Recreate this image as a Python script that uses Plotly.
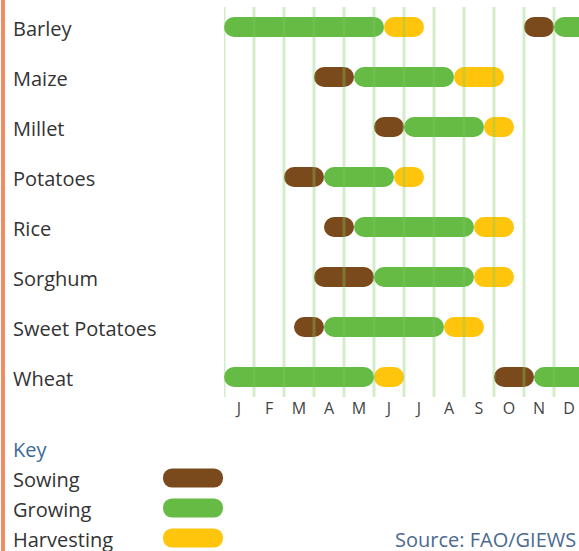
import plotly.graph_objects as go

# Crop calendar, in dekads (10-day periods, 0..36 across the year)
crops = ["Barley", "Maize", "Millet", "Potatoes", "Rice", "Sorghum", "Sweet Potatoes", "Wheat"]

sow_start = [30, 9, 15, 6, 10, 9, 7, 27]
sow_end = [33, 13, 18, 10, 13, 15, 10, 31]

grow_start = [33, 13, 18, 10, 13, 15, 10, 31]
grow_end = [16, 23, 26, 17, 25, 25, 22, 15]   # end < start: season runs into next year

harv_start = [16, 23, 26, 17, 25, 25, 22, 15]
harv_end = [20, 28, 29, 20, 29, 29, 26, 18]

months = ["J", "F", "M", "A", "M", "J", "J", "A", "S", "O", "N", "D"]
key_labels = ["Sowing", "Growing", "Harvesting"]

COL_SOW = "#7b4a1c"
COL_GROW = "#66bb44"
COL_HARV = "#ffc50c"

W, H = 579, 551
YEAR = 36
FONT = "Open Sans"


def px_x(p):
    return p / W


def px_y(p):
    return (H - p) / H


def segments(starts, ends):
    rows, s_out, e_out = [], [], []
    for i, (s, e) in enumerate(zip(starts, ends)):
        if e < s:  # wraps past December
            rows += [i, i]
            s_out += [s, 0]
            e_out += [e + YEAR, e]
        else:
            rows.append(i)
            s_out.append(s)
            e_out.append(e)
    return rows, s_out, e_out


fig = go.Figure()


def add_pills(rows, starts, ends, color, xa="x", ya="y", width=0.4):
    fig.add_trace(go.Bar(
        orientation="h",
        y=rows,
        base=starts,
        x=[e - s for s, e in zip(starts, ends)],
        width=width,
        marker=dict(color=color, cornerradius=10, line=dict(width=0)),
        xaxis=xa, yaxis=ya,
        showlegend=False, hoverinfo="skip",
    ))


for (st, en, col) in [(sow_start, sow_end, COL_SOW),
                      (grow_start, grow_end, COL_GROW),
                      (harv_start, harv_end, COL_HARV)]:
    r, s, e = segments(st, en)
    add_pills(r, s, e, col)

# key pills
key_colors = [COL_SOW, COL_GROW, COL_HARV]
for i, col in enumerate(key_colors):
    add_pills([i], [0], [6], col, xa="x2", ya="y2", width=0.64)

# month separator lines, drawn over the bars
shapes = []
for m in range(12):
    shapes.append(dict(type="line", xref="x", yref="y", x0=m * 3, x1=m * 3,
                       y0=7.4, y1=-0.4, layer="above",
                       line=dict(color="rgba(130,200,100,0.35)", width=3)))
# left border
shapes.append(dict(type="rect", xref="paper", yref="paper", x0=px_x(1), x1=px_x(5),
                   y0=0, y1=1, fillcolor="#f28c64", line=dict(width=0), layer="below"))

annotations = []
for i, c in enumerate(crops):
    annotations.append(dict(text=c, xref="paper", yref="y", x=px_x(11), y=i + 0.03,
                            xanchor="left", yanchor="middle", showarrow=False,
                            font=dict(family=FONT, size=20, color="#333333")))
annotations.append(dict(text="Key", xref="paper", yref="paper", x=px_x(11), y=px_y(449),
                        xanchor="left", yanchor="middle", showarrow=False,
                        font=dict(family=FONT, size=20, color="#3d6a96")))
for i, k in enumerate(key_labels):
    annotations.append(dict(text=k, xref="paper", yref="y2", x=px_x(11), y=i + 0.05,
                            xanchor="left", yanchor="middle", showarrow=False,
                            font=dict(family=FONT, size=20, color="#333333")))
annotations.append(dict(text="Source: FAO/GIEWS", xref="paper", yref="paper",
                        x=px_x(393), y=px_y(539), xanchor="left", yanchor="middle",
                        showarrow=False,
                        font=dict(family=FONT, size=20, color="#4a6a90")))

fig.update_layout(
    width=W, height=H,
    margin=dict(l=0, r=0, t=0, b=0),
    paper_bgcolor="white", plot_bgcolor="white",
    barmode="overlay",
    showlegend=False,
    shapes=shapes,
    annotations=annotations,
    xaxis=dict(domain=[px_x(224), 1], range=[0, (W - 224) / 10],
               tickvals=[1.5 + 3 * k for k in range(12)], ticktext=months,
               showgrid=False, zeroline=False, showline=False,
               ticks="", ticklen=0,
               tickfont=dict(family=FONT, size=16, color="#444444"),
               fixedrange=True),
    yaxis=dict(domain=[px_y(397), px_y(7)], range=[7.4, -0.4],
               showticklabels=False, showgrid=False, zeroline=False, showline=False,
               fixedrange=True),
    xaxis2=dict(domain=[px_x(163), px_x(223)], range=[0, 6], anchor="y2",
                visible=False, fixedrange=True),
    yaxis2=dict(domain=[0, px_y(463)], range=[(H - 478) / 30, -0.5], anchor="x2",
                visible=False, fixedrange=True),
)

fig.write_html("out.html", config={"displayModeBar": False})
